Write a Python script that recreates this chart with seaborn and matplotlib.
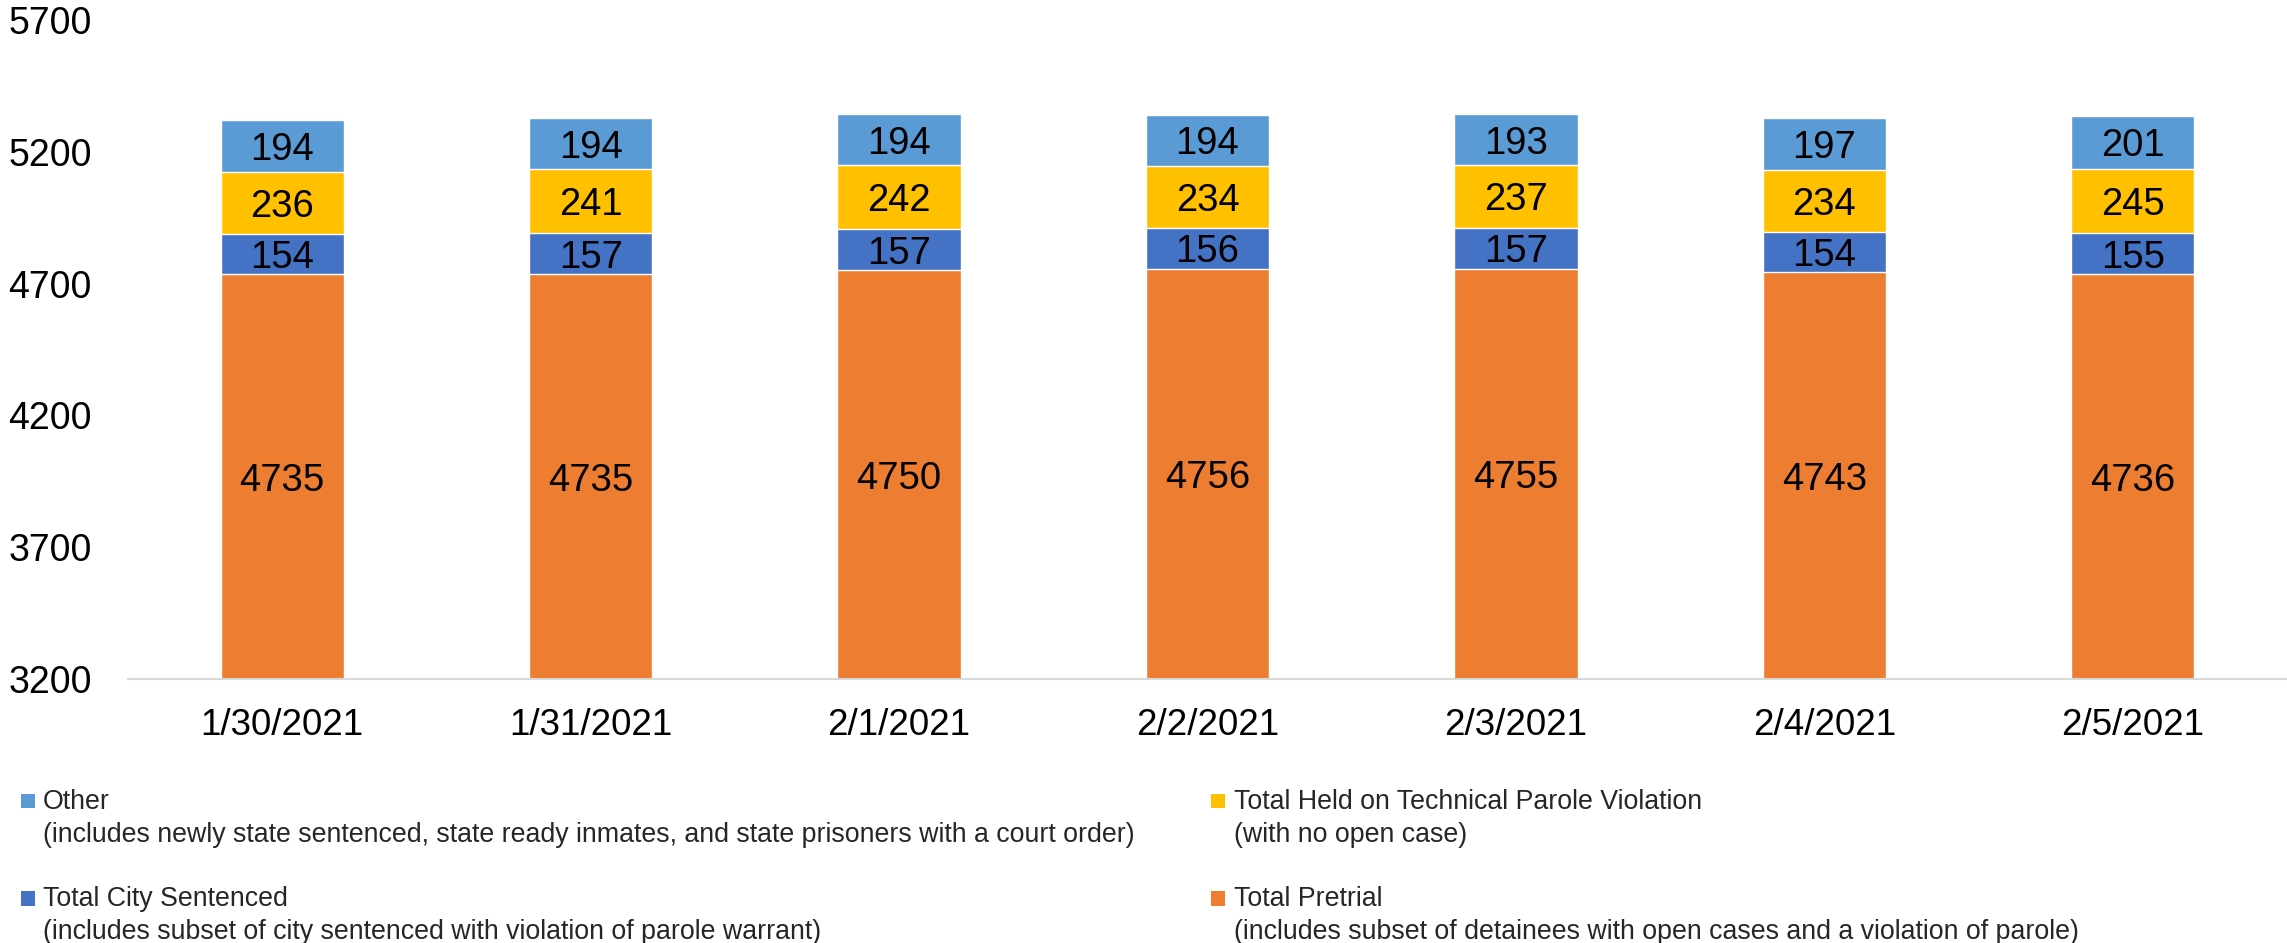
import matplotlib
matplotlib.use("Agg")
import matplotlib.pyplot as plt
import seaborn as sns
import pandas as pd
from matplotlib.patches import Rectangle, Patch
from matplotlib.legend_handler import HandlerPatch

# ---- data ----
dates = ["1/30/2021", "1/31/2021", "2/1/2021", "2/2/2021", "2/3/2021", "2/4/2021", "2/5/2021"]
pretrial = [4735, 4735, 4750, 4756, 4755, 4743, 4736]
city_sentenced = [154, 157, 157, 156, 157, 154, 155]
technical_parole = [236, 241, 242, 234, 237, 234, 245]
other = [194, 194, 194, 194, 193, 197, 201]
y_ticks = [3200, 3700, 4200, 4700, 5200, 5700]

label_other = "Other\n(includes newly state sentenced, state ready inmates, and state prisoners with a court order)"
label_city = "Total City Sentenced\n(includes subset of city sentenced with violation of parole warrant)"
label_tech = "Total Held on Technical Parole Violation\n(with no open case)"
label_pre = "Total Pretrial\n(includes subset of detainees with open cases and a violation of parole)"

col_pre = "#ED7D31"
col_city = "#4472C4"
col_tech = "#FFC000"
col_other = "#5B9BD5"

sns.set_theme(style="white")
plt.rcParams['font.family'] = ['Liberation Sans', 'DejaVu Sans']

df = pd.DataFrame({
    "date": dates,
    "pretrial": pretrial,
    "city": city_sentenced,
    "tech": technical_parole,
    "other": other,
})
df["c1"] = df["pretrial"]
df["c2"] = df["c1"] + df["city"]
df["c3"] = df["c2"] + df["tech"]
df["c4"] = df["c3"] + df["other"]

W, H = 2287, 943
fig = plt.figure(figsize=(W / 100, H / 100), dpi=100)
ax = fig.add_axes([128 / W, 1 - 679 / H, 1 - 128 / W, (679 - 20) / H])

layers = [("c4", col_other), ("c3", col_tech), ("c2", col_city), ("c1", col_pre)]
for col, color in layers:
    sns.barplot(data=df, x="date", y=col, color=color, width=0.4,
                saturation=1, ax=ax, errorbar=None)

ymin, ymax = y_ticks[0], y_ticks[-1]
ax.set_ylim(ymin, ymax)
ax.set_xlim(-0.5, len(dates) - 0.5)
ax.set_yticks(y_ticks)
ax.set_yticklabels([str(v) for v in y_ticks])
ax.set_xlabel("")
ax.set_ylabel("")

for i in range(len(dates)):
    segs = [
        (ymin, df["c1"][i], df["pretrial"][i]),
        (df["c1"][i], df["c2"][i], df["city"][i]),
        (df["c2"][i], df["c3"][i], df["tech"][i]),
        (df["c3"][i], df["c4"][i], df["other"][i]),
    ]
    for lo, hi, val in segs:
        ax.text(i, (lo + hi) / 2, str(val), ha="center", va="center_baseline",
                fontsize=27.5, color="black")

for s in ["left", "top", "right"]:
    ax.spines[s].set_visible(False)
ax.spines["bottom"].set_color("#D9D9D9")
ax.spines["bottom"].set_linewidth(1.5)
ax.tick_params(axis="both", length=0, colors="black")
ax.tick_params(axis="y", pad=26, labelsize=27)
ax.tick_params(axis="x", pad=21, labelsize=26.5)
ax.grid(False)


class TopHandler(HandlerPatch):
    def create_artists(self, legend, orig_handle, xdescent, ydescent,
                       width, height, fontsize, trans):
        size = 0.53 * fontsize
        shift = 0.66 * fontsize
        p = Rectangle((-xdescent, -ydescent + (height - size) / 2 + shift),
                      size, size, facecolor=orig_handle.get_facecolor(),
                      edgecolor="none", transform=trans)
        return [p]


handles = [Patch(facecolor=col_other), Patch(facecolor=col_city),
           Patch(facecolor=col_tech), Patch(facecolor=col_pre)]
labels = [label_other, label_city, label_tech, label_pre]
leg = fig.legend(handles, labels, ncol=2, loc="upper left",
                 bbox_to_anchor=(21 / W, 1 - 789 / H), bbox_transform=fig.transFigure,
                 frameon=False, fontsize=19.3, borderpad=0, borderaxespad=0,
                 handlelength=0.53, handleheight=0.7, handletextpad=0.3,
                 labelspacing=1.45, columnspacing=2.85,
                 handler_map={Patch: TopHandler()})
for t in leg.get_texts():
    t.set_linespacing(1.325)

fig.savefig("out.png", dpi=100)
